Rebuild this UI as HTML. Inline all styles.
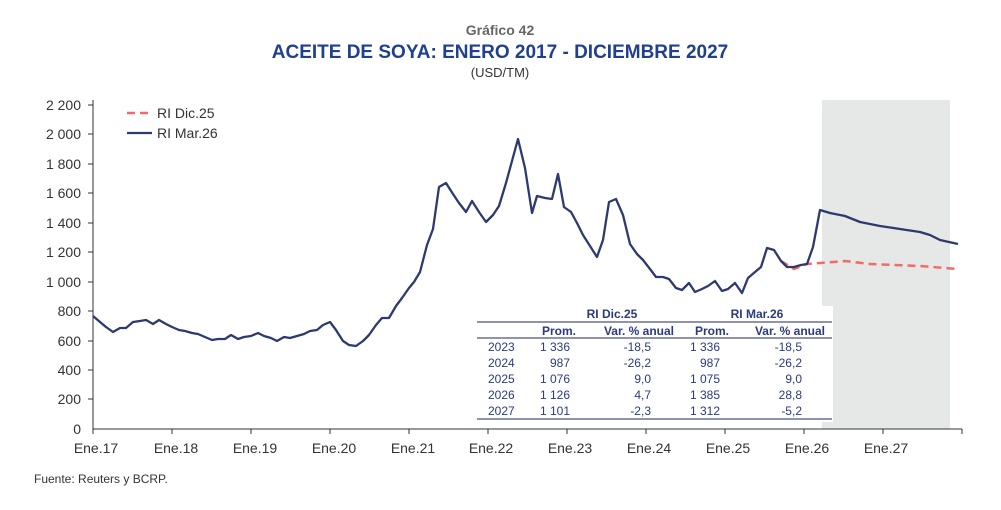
<!DOCTYPE html>
<html><head><meta charset="utf-8"><style>
body{margin:0;background:#fff;}
svg{display:block;font-family:"Liberation Sans",sans-serif;}
</style></head><body>
<svg width="1001" height="510" viewBox="0 0 1001 510">
<text x="500" y="35" text-anchor="middle" font-size="14" font-weight="bold" fill="#666">Gráfico 42</text>
<text x="500" y="58" text-anchor="middle" font-size="19" font-weight="bold" fill="#1f3f8f">ACEITE DE SOYA: ENERO 2017 - DICIEMBRE 2027</text>
<text x="500" y="77" text-anchor="middle" font-size="13" fill="#333">(USD/TM)</text>
<rect x="822" y="100" width="128" height="329" fill="#e6e7e7"/>
<g font-size="14" fill="#333" text-anchor="end">
<text x="81" y="110">2 200</text><text x="81" y="139">2 000</text><text x="81" y="169">1 800</text><text x="81" y="198">1 600</text><text x="81" y="228">1 400</text><text x="81" y="257">1 200</text><text x="81" y="287">1 000</text><text x="81" y="316">800</text><text x="81" y="346">600</text><text x="81" y="375">400</text><text x="81" y="404">200</text><text x="81" y="434">0</text>
</g>
<g stroke="#333" stroke-width="1">
<line x1="93" y1="100" x2="93" y2="429"/><line x1="93" y1="429" x2="962" y2="429"/>
<g id="yt"><line x1="88" y1="105" x2="93" y2="105"/><line x1="88" y1="134" x2="93" y2="134"/><line x1="88" y1="164" x2="93" y2="164"/><line x1="88" y1="193" x2="93" y2="193"/><line x1="88" y1="223" x2="93" y2="223"/><line x1="88" y1="252" x2="93" y2="252"/><line x1="88" y1="282" x2="93" y2="282"/><line x1="88" y1="311" x2="93" y2="311"/><line x1="88" y1="341" x2="93" y2="341"/><line x1="88" y1="370" x2="93" y2="370"/><line x1="88" y1="399" x2="93" y2="399"/></g>
<line x1="93" y1="429" x2="93" y2="434"/><line x1="172" y1="429" x2="172" y2="434"/><line x1="251" y1="429" x2="251" y2="434"/><line x1="330" y1="429" x2="330" y2="434"/><line x1="409" y1="429" x2="409" y2="434"/><line x1="488" y1="429" x2="488" y2="434"/><line x1="567" y1="429" x2="567" y2="434"/><line x1="646" y1="429" x2="646" y2="434"/><line x1="725" y1="429" x2="725" y2="434"/><line x1="804" y1="429" x2="804" y2="434"/><line x1="883" y1="429" x2="883" y2="434"/><line x1="962" y1="429" x2="962" y2="434"/>
</g>
<g font-size="14" fill="#333" text-anchor="middle">
<text x="96" y="453">Ene.17</text><text x="176" y="453">Ene.18</text><text x="255" y="453">Ene.19</text><text x="334" y="453">Ene.20</text><text x="413" y="453">Ene.21</text><text x="491" y="453">Ene.22</text><text x="570" y="453">Ene.23</text><text x="649" y="453">Ene.24</text><text x="728" y="453">Ene.25</text><text x="807" y="453">Ene.26</text><text x="886" y="453">Ene.27</text>
</g>
<polyline fill="none" stroke="#f26b66" stroke-width="2.5" stroke-dasharray="8,5" points="781,261 794,269 807,264 820,263 845,261 870,264 920,266 958,269"/>
<polyline fill="none" stroke="#2e3a6e" stroke-width="2.3" stroke-linejoin="round" points="93,316 100,322 106,327 113,332 120,328 126,328 133,322 140,321 146,320 153,324 159,320 166,324 172,327 179,330 185,331 192,333 198,334 205,337 212,340 218,339 225,339 231,335 238,339 244,337 251,336 258,333 264,336 271,338 277,341 284,337 290,338 297,336 304,334 310,331 317,330 323,325 330,322 336,330 343,341 349,345 356,346 363,341 369,335 376,325 382,318 389,318 396,306 402,298 409,288 414,282 420,272 427,245 433,229 439,187 446,183 453,194 459,203 466,212 472,201 479,212 486,222 493,215 499,206 506,183 512,161 518,139 525,168 532,213 537,196 545,198 552,199 558,174 564,207 571,212 577,223 583,235 590,246 597,257 603,240 609,202 616,199 623,215 630,244 637,254 643,260 650,269 656,277 663,277 669,279 676,288 682,290 689,283 695,292 702,289 708,286 715,281 722,291 728,289 735,283 742,293 748,278 755,272 761,267 767,248 774,250 781,261 787,267 794,267 801,265 807,264 813,247 820,210 830,213 845,216 860,222 880,226 900,229 920,232 930,235 940,240 958,244"/>
<line x1="127" y1="113" x2="152" y2="113" stroke="#f26b66" stroke-width="2.5" stroke-dasharray="8,5"/>
<text x="157" y="118" font-size="14" fill="#333">RI Dic.25</text>
<line x1="127" y1="133" x2="152" y2="133" stroke="#2e3a6e" stroke-width="2.3"/>
<text x="157" y="138" font-size="14" fill="#333">RI Mar.26</text>
<rect x="474" y="306" width="359" height="116" fill="#fff"/>
<g stroke="#6b6f9a" stroke-width="1.5">
<line x1="477" y1="322" x2="832" y2="322"/><line x1="477" y1="338" x2="832" y2="338"/><line x1="477" y1="419" x2="832" y2="419"/>
</g>
<g font-size="12" fill="#2b3a80">
<g font-weight="bold" text-anchor="middle"><text x="612" y="318">RI Dic.25</text><text x="757" y="318">RI Mar.26</text></g>
<g font-weight="bold" text-anchor="end"><text x="576" y="335">Prom.</text><text x="674" y="335">Var. % anual</text><text x="729" y="335">Prom.</text><text x="825" y="335">Var. % anual</text></g>
<g text-anchor="start"><text x="488" y="351">2023</text><text x="488" y="367">2024</text><text x="488" y="383">2025</text><text x="488" y="399">2026</text><text x="488" y="415">2027</text></g>
<g text-anchor="end">
<text x="570" y="351">1 336</text><text x="570" y="367">987</text><text x="570" y="383">1 076</text><text x="570" y="399">1 126</text><text x="570" y="415">1 101</text>
<text x="651" y="351">-18,5</text><text x="651" y="367">-26,2</text><text x="651" y="383">9,0</text><text x="651" y="399">4,7</text><text x="651" y="415">-2,3</text>
<text x="720" y="351">1 336</text><text x="720" y="367">987</text><text x="720" y="383">1 075</text><text x="720" y="399">1 385</text><text x="720" y="415">1 312</text>
<text x="802" y="351">-18,5</text><text x="802" y="367">-26,2</text><text x="802" y="383">9,0</text><text x="802" y="399">28,8</text><text x="802" y="415">-5,2</text>
</g></g>
<text x="34" y="483" font-size="12" fill="#333">Fuente: Reuters y BCRP.</text>
</svg>
</body></html>
